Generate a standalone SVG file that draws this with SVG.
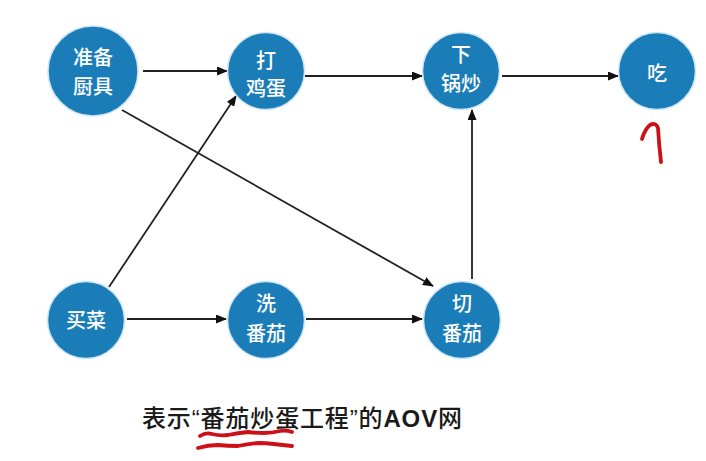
<svg xmlns="http://www.w3.org/2000/svg" width="706" height="461" viewBox="0 0 706 461">
<style>
.node circle{fill:#1b7db8;stroke:#cfe6f4;stroke-width:1.5}
.node text{fill:#fff;font-family:"Noto Sans CJK SC",sans-serif;font-size:20px;font-weight:500;text-anchor:middle}
.edge{stroke:#222;stroke-width:1.8;fill:none;marker-end:url(#arr)}
.ink{stroke:#cc1018;stroke-width:3.8;fill:none;stroke-linecap:round;stroke-linejoin:round}
.title{font-family:"Liberation Sans","Noto Sans CJK SC",sans-serif;font-size:24px;fill:#1a1a1a;font-weight:500}
.title .b{font-weight:700}
</style>
<defs>
<marker id="arr" markerUnits="userSpaceOnUse" markerWidth="11" markerHeight="9" refX="10" refY="4.5" orient="auto">
<path d="M0,0 L11,4.5 L0,9 z" fill="#111"/>
</marker>
</defs>
<rect width="706" height="461" fill="#fff"/>
<g id="connectors">
<line class="edge" x1="143" y1="71" x2="227" y2="71"/>
<line class="edge" x1="305" y1="76" x2="422" y2="76"/>
<line class="edge" x1="502" y1="76" x2="618" y2="76"/>
<line class="edge" x1="127" y1="319" x2="226" y2="319"/>
<line class="edge" x1="306" y1="319" x2="422" y2="319"/>
<line class="edge" x1="472" y1="279" x2="472" y2="110"/>
<line class="edge" x1="122" y1="110" x2="433" y2="286"/>
<line class="edge" x1="109" y1="287" x2="236" y2="96"/>
</g>
<g id="n1" class="node"><circle cx="93" cy="71" r="45"/><text x="93" y="65">准备</text><text x="93" y="94">厨具</text></g>
<g id="n2" class="node"><circle cx="266" cy="71" r="38.5"/><text x="266" y="68">打</text><text x="266" y="96">鸡蛋</text></g>
<g id="n3" class="node"><circle cx="461" cy="71" r="38.5"/><text x="461" y="62">下</text><text x="461" y="91">锅炒</text></g>
<g id="n4" class="node"><circle cx="657" cy="71" r="38.5"/><text x="657" y="81">吃</text></g>
<g id="n5" class="node"><circle cx="86" cy="320" r="38.5"/><text x="86" y="328">买菜</text></g>
<g id="n6" class="node"><circle cx="266" cy="320" r="38.5"/><text x="266" y="311">洗</text><text x="266" y="341">番茄</text></g>
<g id="n7" class="node"><circle cx="462" cy="320" r="38.5"/><text x="462" y="311">切</text><text x="462" y="341">番茄</text></g>
<text class="title" x="142" y="427" textLength="320" lengthAdjust="spacing">表示“番茄炒蛋工程”的<tspan class="b">AOV</tspan>网</text>
<g id="annotations">
<path class="ink" d="M642,139 Q645,129 650,125 Q656,122 658,128 Q659,145 661,162"/>
<path class="ink" d="M200,436 Q206,432 212,434 Q220,436 228,435 Q238,433 248,432 Q256,433 264,433 Q272,433 280,431 Q286,430 292,432"/>
<path class="ink" d="M198,448 Q208,445 218,445 Q228,446 238,446 Q248,444 258,443 Q266,443 274,444 Q282,445 292,446"/>
</g>
</svg>
